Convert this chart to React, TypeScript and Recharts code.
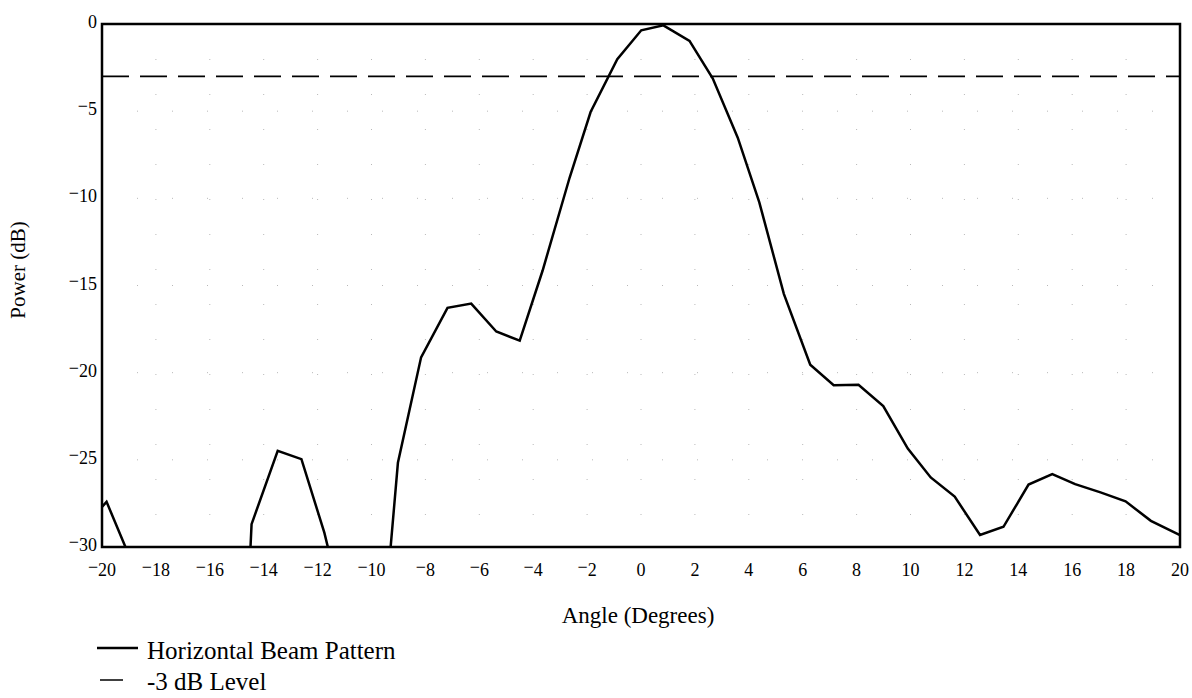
import {
  CartesianGrid,
  Line,
  LineChart,
  ReferenceArea,
  ReferenceLine,
  XAxis,
  YAxis,
} from "recharts";

// ── data ────────────────────────────────────────────────────────
const ANGLES = [
  -20, -19.83, -18.94, -18.05, -17.16, -16.27, -15.34, -14.45, -13.48, -12.6,
  -11.75, -10.86, -9.91, -9.02, -8.16, -7.18, -6.3, -5.37, -4.5, -3.65, -2.65,
  -1.87, -0.88, 0.01, 0.83, 1.8, 2.66, 3.59, 4.39, 5.3, 6.28, 7.15, 8.07, 8.99,
  9.9, 10.75, 11.64, 12.58, 13.45, 14.38, 15.26, 16.11, 17.05, 17.98, 18.92,
  19.98,
];

// values under -30 dB are off the plot (clipped at the floor)
const POWER_DB = [
  -27.7, -27.41, -30.7, -35, -40, -48, -58, -28.69, -24.48, -24.96, -29.18,
  -34.8, -41.1, -25.17, -19.12, -16.28, -16.04, -17.64, -18.16, -14.14, -8.82,
  -5.05, -2.02, -0.36, -0.08, -0.97, -3.11, -6.52, -10.23, -15.48, -19.54,
  -20.72, -20.69, -21.92, -24.35, -26.01, -27.11, -29.31, -28.84, -26.42,
  -25.82, -26.39, -26.87, -27.38, -28.5, -29.31,
];

const X_TICKS = [-20, -18, -16, -14, -12, -10, -8, -6, -4, -2, 0, 2, 4, 6, 8, 10, 12, 14, 16, 18, 20];
const Y_TICKS = [0, -5, -10, -15, -20, -25, -30];
const HALF_POWER_DB = -3;

const LABEL_BEAM = "Horizontal Beam Pattern";
const LABEL_3DB = "-3 dB Level";
const X_TITLE = "Angle (Degrees)";
const Y_TITLE = "Power (dB)";

const FONT = "'Liberation Serif', 'Times New Roman', serif";

const chartData = ANGLES.map((a, i) => ({ angle: a, power: POWER_DB[i] }));

// Mathcad style raised minus
function TickText({ x, y, value, anchor }: { x: number; y: number; value: number; anchor: "middle" | "end" }) {
  const neg = value < 0;
  return (
    <text x={x} y={y} textAnchor={anchor} fontSize={18} fontFamily={FONT} fill="#000">
      {neg ? (
        <>
          <tspan dy={-3}>−</tspan>
          <tspan dy={3}>{Math.abs(value)}</tspan>
        </>
      ) : (
        String(value)
      )}
    </text>
  );
}

// eslint-disable-next-line @typescript-eslint/no-explicit-any
const XTick = (p: any) => <TickText x={p.x} y={p.y + 29} value={p.payload.value} anchor="middle" />;
// eslint-disable-next-line @typescript-eslint/no-explicit-any
const YTick = (p: any) => <TickText x={p.x - 5} y={p.y + 4} value={p.payload.value} anchor="end" />;

export default function App() {
  return (
    <div
      style={{
        position: "absolute",
        left: 0,
        top: 0,
        width: 1192,
        height: 698,
        background: "#fff",
        fontFamily: FONT,
        color: "#000",
      }}
    >
      <LineChart
        width={1192}
        height={580}
        data={chartData}
        margin={{ top: 24, right: 12, left: 42, bottom: 0 }}
      >
        <CartesianGrid stroke="#b8b8b8" strokeWidth={1} strokeDasharray="1 34" />
        <XAxis
          dataKey="angle"
          type="number"
          domain={[-20, 20]}
          ticks={X_TICKS}
          allowDataOverflow
          axisLine={false}
          tickLine={false}
          tickSize={0}
          tickMargin={0}
          height={33}
          interval={0}
          tick={XTick}
        />
        <YAxis
          type="number"
          domain={[-30, 0]}
          ticks={Y_TICKS}
          allowDataOverflow
          axisLine={false}
          tickLine={false}
          tickSize={0}
          tickMargin={0}
          width={60}
          interval={0}
          tick={YTick}
        />
        <ReferenceLine
          y={HALF_POWER_DB}
          stroke="#000"
          strokeWidth={1.8}
          strokeDasharray="27 11"
        />
        <Line
          type="linear"
          dataKey="power"
          stroke="#000"
          strokeWidth={2.5}
          dot={false}
          activeDot={false}
          isAnimationActive={false}
        />
        <ReferenceArea
          x1={-20}
          x2={20}
          y1={-30}
          y2={0}
          fill="none"
          fillOpacity={0}
          stroke="#000"
          strokeWidth={2.5}
        />
      </LineChart>

      {/* axis titles */}
      <div
        style={{
          position: "absolute",
          left: 18,
          top: 270,
          transform: "translate(-50%, -50%) rotate(-90deg)",
          fontSize: 21,
          lineHeight: 1,
          whiteSpace: "nowrap",
        }}
      >
        {Y_TITLE}
      </div>
      <div
        style={{
          position: "absolute",
          left: 638,
          top: 604,
          transform: "translateX(-50%)",
          fontSize: 23,
          lineHeight: 1,
          whiteSpace: "nowrap",
        }}
      >
        {X_TITLE}
      </div>

      {/* legend */}
      <svg
        width={60}
        height={60}
        style={{ position: "absolute", left: 90, top: 630 }}
      >
        <line x1={7} y1={18} x2={48} y2={18} stroke="#000" strokeWidth={2.5} />
        <line x1={10} y1={50} x2={33} y2={50} stroke="#000" strokeWidth={1.5} />
      </svg>
      <div
        style={{
          position: "absolute",
          left: 147,
          top: 638,
          fontSize: 25,
          lineHeight: 1,
          whiteSpace: "nowrap",
        }}
      >
        {LABEL_BEAM}
      </div>
      <div
        style={{
          position: "absolute",
          left: 147,
          top: 669,
          fontSize: 25,
          lineHeight: 1,
          whiteSpace: "nowrap",
        }}
      >
        {LABEL_3DB}
      </div>
    </div>
  );
}
